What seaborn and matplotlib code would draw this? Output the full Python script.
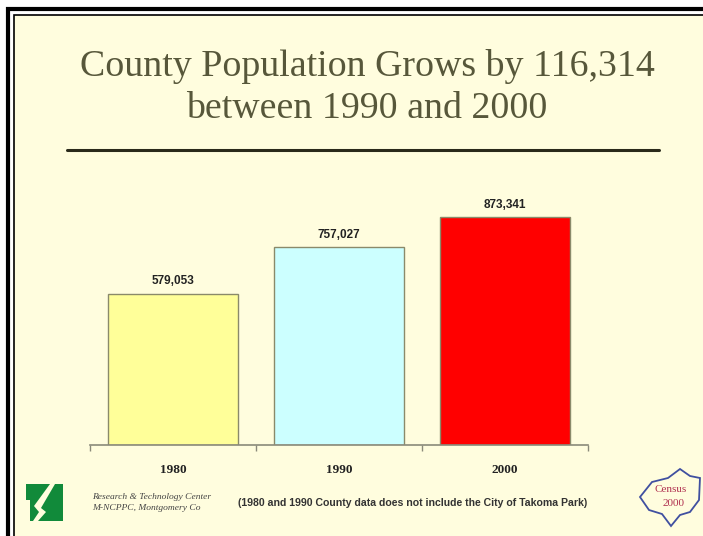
import matplotlib
matplotlib.use('Agg')
import matplotlib.pyplot as plt
import matplotlib.patches as mpatches
import seaborn as sns
import pandas as pd

years = ['1980', '1990', '2000']
population = [579053, 757027, 873341]
bar_colors = ['#FFFF99', '#CCFFFF', '#FF0000']
value_labels = ['579,053', '757,027', '873,341']

title_lines = ['County Population Grows by 116,314', 'between 1990 and 2000']
footnote = '(1980 and 1990 County data does not include the City of Takoma Park)'
credit = ['Research & Technology Center', 'M-NCPPC, Montgomery Co']

df = pd.DataFrame({'year': years, 'population': population})

sns.set_style('white')
plt.rcParams['font.family'] = ['Liberation Sans', 'DejaVu Sans']

bg = '#FFFDDE'
fig = plt.figure(figsize=(7.03, 5.36), dpi=100)
fig.patch.set_facecolor('white')


def px(x, y):
    return (x / 703, 1 - y / 536)


# slide background + double border
fig.patches.append(mpatches.Rectangle((8 / 703, -0.1), 1.2, 1.1 - 9 / 536, transform=fig.transFigure,
                                      facecolor='white', edgecolor='black', linewidth=3, zorder=-2))
fig.patches.append(mpatches.Rectangle((14 / 703, -0.1), 1.2, 1.1 - 15 / 536, transform=fig.transFigure,
                                      facecolor=bg, edgecolor='black', linewidth=1.2, zorder=-1))

# title
fig.text(367 / 703, 1 - 67 / 536, title_lines[0], ha='center', va='center', fontsize=27.3,
         family='Liberation Serif', color='#57573a')
fig.text(367 / 703, 1 - 109 / 536, title_lines[1], ha='center', va='center', fontsize=27.3,
         family='Liberation Serif', color='#57573a')
fig.lines.append(plt.Line2D([67 / 703, 659 / 703], [1 - 150 / 536, 1 - 150 / 536],
                            transform=fig.transFigure, color='#2a2a1a', linewidth=2.2))

ax = fig.add_axes([90 / 703, 91 / 536, 498 / 703, 261 / 536])
ax.set_facecolor('none')
sns.barplot(data=df, x='year', y='population', hue='year', palette=bar_colors,
            legend=False, width=0.78, edgecolor='#8a8a6a', linewidth=1, saturation=1, ax=ax)
ax.set_xlim(-0.5, 2.5)
ax.set_ylim(0, 1000000)
for i, v in enumerate(population):
    ax.text(i, v + 25000, value_labels[i], ha='center', va='bottom', fontsize=8.5,
            fontweight='bold', color='#222222')

for s in ['top', 'right', 'left']:
    ax.spines[s].set_visible(False)
ax.spines['bottom'].set_color('#8a8a7a')
ax.spines['bottom'].set_linewidth(1.2)
ax.set_yticks([])
ax.set_xlabel('')
ax.set_ylabel('')
ax.set_xticks([0, 1, 2])
ax.set_xticklabels(years, family='Liberation Serif', fontweight='bold', fontsize=9.5, color='#222222')
ax.tick_params(axis='x', which='major', length=0, pad=14)
ax.set_xticks([-0.5, 0.5, 1.5, 2.5], minor=True)
ax.tick_params(axis='x', which='minor', bottom=True, length=4, width=1, color='#8a8a7a', direction='out')

# footer
fig.text(px(413, 503)[0], px(413, 503)[1], footnote, ha='center', va='center', fontsize=7.6,
         fontweight='bold', color='#333333')
fig.text(px(92, 497)[0], px(92, 497)[1], credit[0], ha='left', va='center', fontsize=6.8,
         family='Liberation Serif', style='italic', color='#444444')
fig.text(px(92, 508)[0], px(92, 508)[1], credit[1], ha='left', va='center', fontsize=6.8,
         family='Liberation Serif', style='italic', color='#444444')

# green logo
fig.patches.append(mpatches.Polygon([px(26, 484), px(63, 484), px(63, 521), px(30, 521), px(30, 500), px(26, 500)],
                                    closed=True, transform=fig.transFigure, facecolor='#118a3a',
                                    edgecolor='none', zorder=2))
fig.patches.append(mpatches.Polygon([px(50, 484), px(55, 484), px(41, 508), px(46, 512), px(38, 521),
                                     px(33, 521), px(39, 512), px(34, 506)],
                                    closed=True, transform=fig.transFigure, facecolor=bg,
                                    edgecolor='none', zorder=3))

# census 2000 logo
fig.patches.append(mpatches.Polygon([px(640, 497), px(652, 482), px(668, 478), px(680, 469), px(690, 476),
                                     px(700, 478), px(699, 500), px(690, 512), px(680, 515), px(671, 526),
                                     px(662, 514), px(649, 510)],
                                    closed=True, transform=fig.transFigure, facecolor='none',
                                    edgecolor='#4050a0', linewidth=1.3, zorder=2))
fig.text(px(671, 490)[0], px(671, 490)[1], 'Census', ha='center', va='center', fontsize=8,
         family='Liberation Serif', color='#b03050')
fig.text(px(674, 503)[0], px(674, 503)[1], '2000', ha='center', va='center', fontsize=8,
         family='Liberation Serif', color='#b03050')

fig.savefig('out.png', dpi=100, facecolor=fig.get_facecolor())
